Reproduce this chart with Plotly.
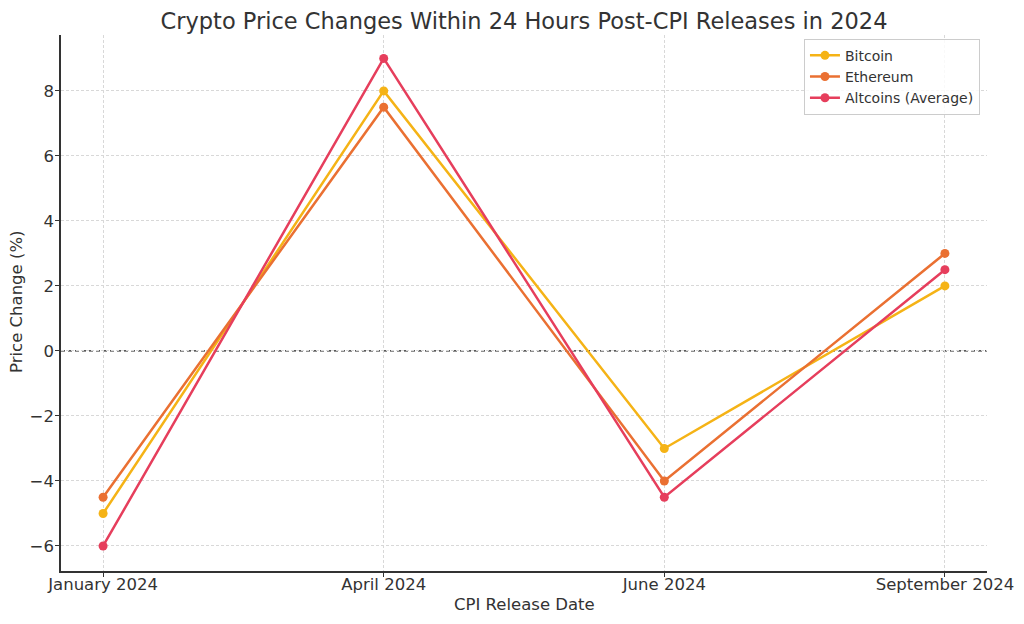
import plotly.graph_objects as go

dates = ["January 2024", "April 2024", "June 2024", "September 2024"]
bitcoin = [-5, 8, -3, 2]
ethereum = [-4.5, 7.5, -4, 3]
altcoins = [-6, 9, -4.5, 2.5]

series = [
    ("Bitcoin", bitcoin, "#F5B316"),
    ("Ethereum", ethereum, "#EA7032"),
    ("Altcoins (Average)", altcoins, "#E63E5C"),
]

fig = go.Figure()
for name, vals, col in series:
    fig.add_trace(go.Scatter(
        x=list(range(len(dates))), y=vals, name=name, mode="lines+markers",
        line=dict(color=col, width=2.5), marker=dict(color=col, size=9),
    ))

fig.add_shape(type="line", xref="paper", x0=0, x1=1, yref="y", y0=0, y1=0,
              line=dict(color="#222222", width=1.2, dash="4px,3px"), layer="between")

fig.add_annotation(text="CPI Release Date", xref="paper", yref="paper", x=0.5, y=-0.0616,
                   xanchor="center", yanchor="middle", showarrow=False,
                   font=dict(size=16.5, color="#333333"))
fig.add_annotation(text="Price Change (%)", xref="paper", yref="paper", x=-0.0475, y=0.502,
                   xanchor="center", yanchor="middle", showarrow=False, textangle=-90,
                   font=dict(size=16.5, color="#333333"))

fig.update_layout(
    width=1016, height=616,
    margin=dict(l=53, r=37, t=27, b=53),
    paper_bgcolor="white", plot_bgcolor="white",
    font=dict(family="DejaVu Sans", color="#333333", size=16),
    title=dict(text="Crypto Price Changes Within 24 Hours Post-CPI Releases in 2024",
               x=0.5, xref="paper", xanchor="center", y=0.979, yanchor="middle",
               font=dict(size=22.5, color="#333333")),
    showlegend=True,
    legend=dict(x=0.9924, y=0.993, xanchor="right", yanchor="top",
                bgcolor="rgba(255,255,255,0.85)", bordercolor="#cccccc", borderwidth=1,
                font=dict(size=14, color="#333333"), tracegroupgap=0,
                itemwidth=30),
    xaxis=dict(
        tickmode="array", tickvals=list(range(len(dates))), ticktext=dates,
        range=[-0.15, 3.15], showgrid=True, gridcolor="#d8d8d8", griddash="3px,2px",
        gridwidth=0.8, showline=True, linecolor="#333333", linewidth=1.5,
        ticks="outside", ticklen=4, tickcolor="#333333", zeroline=False,
        automargin=False, tickfont=dict(size=16.5), ticklabelstandoff=-7,
    ),
    yaxis=dict(
        range=[-6.77, 9.72], tickmode="array", tickvals=[-6, -4, -2, 0, 2, 4, 6, 8],
        ticktext=["−6", "−4", "−2", "0", "2", "4", "6", "8"],
        showgrid=True, gridcolor="#d8d8d8", griddash="3px,2px", gridwidth=0.8,
        showline=True, linecolor="#333333", linewidth=1.5,
        ticks="outside", ticklen=4, tickcolor="#333333", zeroline=False,
        automargin=False, tickfont=dict(size=16.5), ticklabelstandoff=-2,
    ),
)

fig.write_html("out.html")
